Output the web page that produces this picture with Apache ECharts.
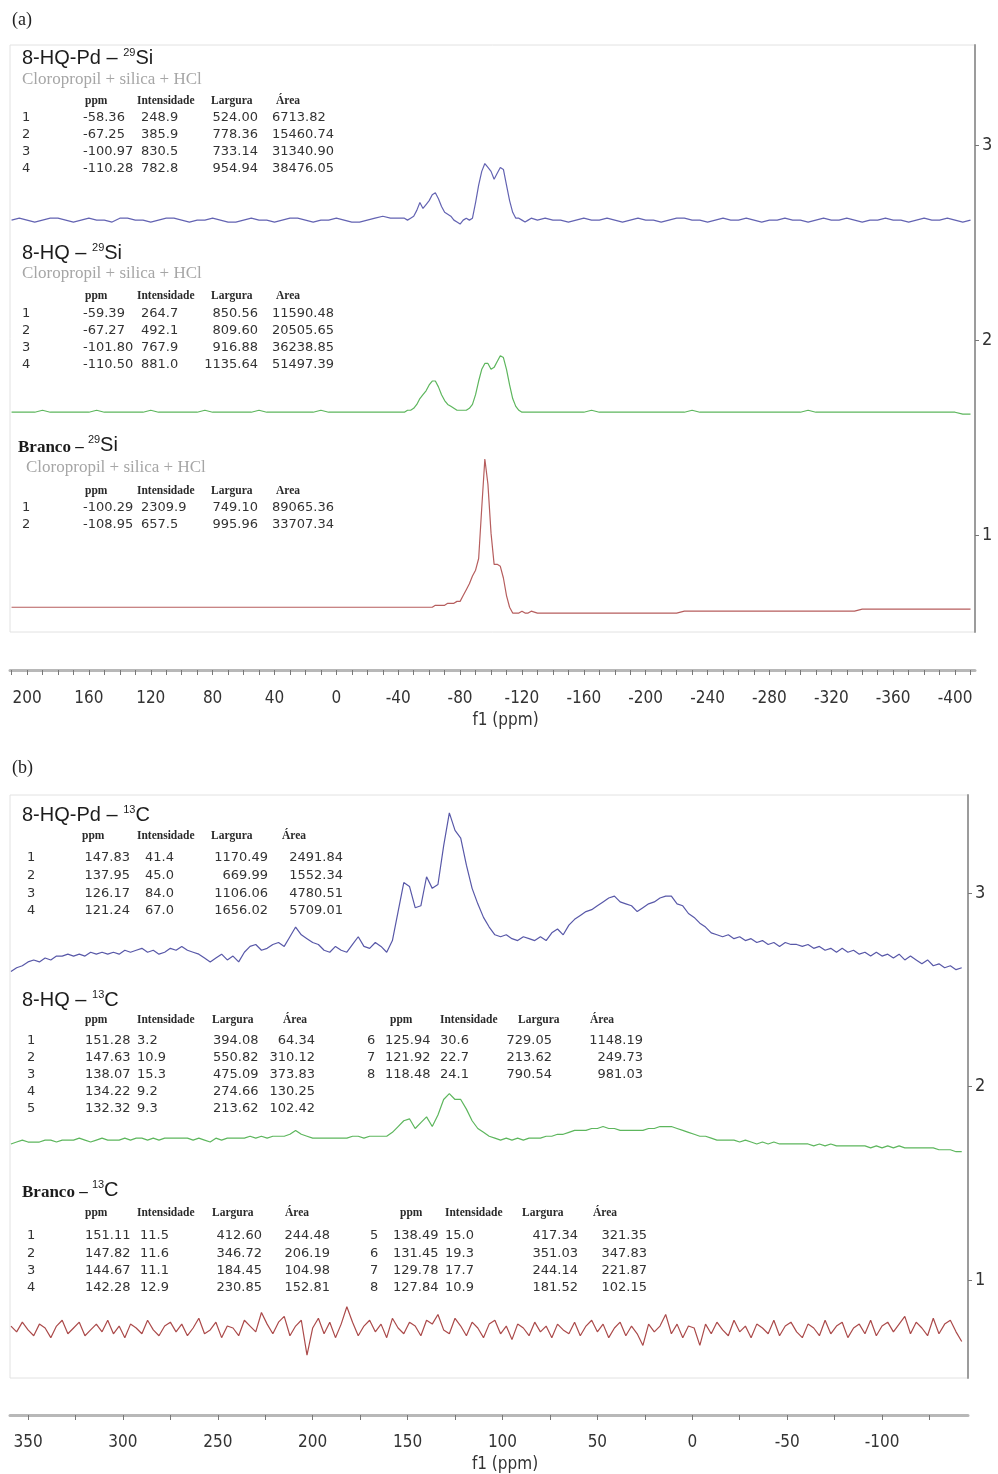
<!DOCTYPE html>
<html>
<head>
<meta charset="utf-8">
<title>RMN 29Si / 13C</title>
<style>
  html, body { margin: 0; padding: 0; background: #fff; }
  #chart { width: 998px; height: 1474px; }
</style>
</head>
<body>
<div id="chart"></div>
<script src="https://cdn.jsdelivr.net/npm/echarts@6/dist/echarts.min.js"></script>
<script>
// ---------- (a) 29Si : ppm grid and spectra (intensity in 1/100 of a y-unit above baseline) ----------
var siPpm = [
  210,205,200,195,190,185,180,175,170,165,
  160,155,150,145,140,135,130,125,120,115,
  110,105,100,95,90,85,80,75,70,65,
  60,55,50,45,40,35,30,25,20,15,
  10,5,0,-5,-10,-15,-20,-25,-30,-35,
  -40,
  -42,-44,-46,-48,-50,-52,-54,-56,-58,-60,
  -62,-64,-66,-68,-70,-72,-74,-76,-78,-80,
  -82,-84,-86,-88,-90,-92,-94,-96,-98,-100,
  -102,-104,-106,-108,-110,-112,-114,-116,-118,-120,
  -122,-124,-126,
  -130,-135,-140,-145,-150,-155,-160,-165,-170,-175,
  -180,-185,-190,-195,-200,-205,-210,-215,-220,-225,
  -230,-235,-240,-245,-250,-255,-260,-265,-270,-275,
  -280,-285,-290,-295,-300,-305,-310,-315,-320,-325,
  -330,-335,-340,-345,-350,-355,-360,-365,-370,-375,
  -380,-385,-390,-395,-400,-405,-410
];
var siPd = [
  0,1,0,-1,0,1,1,0,-1,0,
  1,0,0,-1,1,1,0,0,-1,0,
  1,1,0,-1,0,0,1,0,-1,-1,
  0,1,0,0,-1,0,1,1,0,-1,
  0,0,1,0,-1,-1,0,1,2,1,
  1,
  1,1,0,1,2,5,9,6,8,10,
  13,14,11,7,4,3,2,0,-1,-2,
  0,1,0,1,9,18,25,29,27,25,
  21,24,27,26,18,10,4,1,1,0,
  -1,0,1,
  0,1,0,0,-1,0,1,0,0,1,
  0,-1,0,1,0,0,-1,0,1,1,
  0,0,-1,0,1,0,0,1,0,-1,
  0,0,1,0,0,-1,0,1,0,0,
  1,0,-1,0,0,1,0,0,-1,0,
  1,0,0,1,0,-1,0
];
var siHq = [
  0,0,0,0,1,0,0,0,0,0,
  0,1,0,0,0,0,0,0,1,0,
  0,0,0,0,0,1,0,0,0,0,
  0,0,1,0,0,0,0,0,0,0,
  1,0,0,0,0,0,0,0,0,0,
  0,
  0,0,1,1,2,4,7,9,11,14,
  16,16,13,9,6,4,3,2,1,1,
  1,1,2,4,9,16,22,25,25,22,
  23,26,29,28,22,14,7,3,1,0,
  0,0,0,
  0,0,0,0,0,0,0,1,0,0,
  0,0,0,0,0,0,0,0,0,0,
  1,0,0,0,0,0,0,0,0,0,
  0,0,0,0,0,1,0,0,0,0,
  0,0,0,0,0,0,0,0,0,0,
  0,0,0,0,0,-1,-1
];
var siBranco = [
  0,0,0,0,0,0,0,0,0,0,
  0,0,0,0,0,0,0,0,0,0,
  0,0,0,0,0,0,0,0,0,0,
  0,0,0,0,0,0,0,0,0,0,
  0,0,0,0,0,0,0,0,0,0,
  0,
  0,0,0,0,0,0,0,0,0,0,
  0,1,1,1,1,2,2,2,3,3,
  6,9,12,16,19,25,51,76,63,38,
  22,22,21,15,6,0,-3,-3,-3,-2,
  -3,-3,-2,
  -3,-3,-3,-3,-3,-3,-3,-3,-3,-3,
  -3,-3,-3,-3,-3,-3,-3,-3,-3,-2,
  -2,-2,-2,-2,-2,-2,-2,-2,-2,-2,
  -2,-2,-2,-2,-2,-2,-2,-2,-2,-2,
  -2,-2,-1,-1,-1,-1,-1,-1,-1,-1,
  -1,-1,-1,-1,-1,-1,-1
];
var siLabels = [200,160,120,80,40,0,-40,-80,-120,-160,-200,-240,-280,-320,-360,-400];

// ---------- (b) 13C ----------
var cPpm = [
  359,356,353,350,347,344,341,338,335,332,
  329,326,323,320,317,314,311,308,305,302,
  299,296,293,290,287,284,281,278,275,272,
  269,266,263,260,257,254,251,248,245,242,
  239,236,233,230,227,224,221,218,215,212,
  209,206,203,200,197,194,191,188,185,182,
  179,176,173,170,167,164,161,158,155,152,
  149,146,143,140,137,134,131,128,125,122,
  119,116,113,110,107,104,101,98,95,92,
  89,86,83,80,77,74,71,68,65,62,
  59,56,53,50,47,44,41,38,35,32,
  29,26,23,20,17,14,11,8,5,2,
  -1,-4,-7,-10,-13,-16,-19,-22,-25,-28,
  -31,-34,-37,-40,-43,-46,-49,-52,-55,-58,
  -61,-64,-67,-70,-73,-76,-79,-82,-85,-88,
  -91,-94,-97,-100,-103,-106,-109,-112,-115,-118,
  -121,-124,-127,-130,-133,-136,-139,-142
];
var cPd = [
  -6,-4,-3,-1,0,-1,1,0,2,2,
  3,2,3,2,4,3,4,3,4,3,
  5,4,5,6,4,5,3,4,6,5,
  7,5,4,3,1,-1,1,3,0,2,
  -1,4,7,8,5,6,8,9,7,12,
  17,13,11,9,8,5,4,7,5,4,
  8,12,7,6,9,7,4,10,25,40,
  38,27,28,43,37,39,59,76,67,63,
  49,37,29,22,17,13,12,13,11,10,
  12,11,10,12,10,14,16,13,18,21,
  23,25,26,28,30,32,33,30,29,28,
  25,27,29,30,32,33,33,29,28,24,
  22,19,17,14,13,12,13,11,12,10,
  11,9,10,8,9,7,9,8,8,7,
  8,6,7,5,6,4,6,4,5,3,
  4,2,4,2,3,1,3,0,2,0,
  -2,0,-3,-2,-4,-3,-5,-4
];
var cHq = [
  -1,0,1,0,0,0,1,1,0,1,
  1,1,2,1,0,1,2,1,1,1,
  2,1,2,2,1,2,1,2,2,2,
  2,2,1,2,1,0,2,1,2,2,
  2,2,3,2,3,2,3,3,3,4,
  6,4,3,2,2,2,2,2,2,2,
  3,3,2,3,3,3,3,5,8,11,
  12,7,10,13,8,14,22,25,22,22,
  17,11,7,5,3,2,1,2,1,2,
  1,2,2,2,3,3,4,4,5,6,
  6,6,7,7,8,7,7,6,6,6,
  6,6,7,7,8,8,8,7,6,5,
  4,3,3,2,1,1,1,1,0,1,
  0,-1,0,-1,0,-1,-1,-1,-1,-1,
  -1,-2,-1,-2,-1,-2,-2,-2,-2,-2,
  -2,-3,-2,-3,-2,-3,-2,-3,-3,-3,
  -3,-3,-3,-4,-4,-4,-5,-5
];
var cBranco = [
  2,-1,4,0,-3,3,1,-4,2,5,
  -2,1,4,-3,0,3,-1,5,-2,2,
  -4,3,1,-2,5,0,-3,2,4,-1,
  3,-3,1,6,-2,0,4,-4,2,1,
  -3,5,2,-1,9,3,-2,4,7,-3,
  2,5,-13,1,6,-2,4,-4,3,12,
  4,-3,2,5,-1,3,-4,6,1,-2,
  4,2,-3,5,3,8,0,-2,6,2,
  -3,4,1,-4,3,5,-2,2,-5,3,
  1,-3,4,-1,2,-4,3,0,-2,4,
  -3,2,5,-1,3,-4,1,4,-3,2,
  -2,-8,3,-1,2,8,-2,3,-4,2,
  1,-8,3,-2,4,0,-3,5,-1,2,
  -4,3,1,-2,5,-3,2,4,-1,-4,
  3,1,-3,5,-2,2,4,-4,1,3,
  -2,5,-3,2,4,-1,3,7,-2,4,
  1,-3,6,-2,3,5,-1,-6
];
var cLabels = [350,300,250,200,150,100,50,0,-50,-100];
var yLabels = [1, 2, 3];

// baselines of the stacked traces, in y-axis units
var siBase = [2.615, 1.63, 0.63];
var cBase = [2.654, 1.713, 0.742];

// peak tables
var headSiA = ['ppm', 'Intensidade', 'Largura', 'Área'];
var headSiB = ['ppm', 'Intensidade', 'Largura', 'Area'];
var siPdRows = [
  ['1','-58.36','248.9','524.00','6713.82'],
  ['2','-67.25','385.9','778.36','15460.74'],
  ['3','-100.97','830.5','733.14','31340.90'],
  ['4','-110.28','782.8','954.94','38476.05']
];
var siHqRows = [
  ['1','-59.39','264.7','850.56','11590.48'],
  ['2','-67.27','492.1','809.60','20505.65'],
  ['3','-101.80','767.9','916.88','36238.85'],
  ['4','-110.50','881.0','1135.64','51497.39']
];
var siBrRows = [
  ['1','-100.29','2309.9','749.10','89065.36'],
  ['2','-108.95','657.5','995.96','33707.34']
];
var cPdRows = [
  ['1','147.83','41.4','1170.49','2491.84'],
  ['2','137.95','45.0','669.99','1552.34'],
  ['3','126.17','84.0','1106.06','4780.51'],
  ['4','121.24','67.0','1656.02','5709.01']
];
var cHqRows = [
  ['1','151.28','3.2','394.08','64.34'],
  ['2','147.63','10.9','550.82','310.12'],
  ['3','138.07','15.3','475.09','373.83'],
  ['4','134.22','9.2','274.66','130.25'],
  ['5','132.32','9.3','213.62','102.42'],
  ['6','125.94','30.6','729.05','1148.19'],
  ['7','121.92','22.7','213.62','249.73'],
  ['8','118.48','24.1','790.54','981.03']
];
var cBrRows = [
  ['1','151.11','11.5','412.60','244.48'],
  ['2','147.82','11.6','346.72','206.19'],
  ['3','144.67','11.1','184.45','104.98'],
  ['4','142.28','12.9','230.85','152.81'],
  ['5','138.49','15.0','417.34','321.35'],
  ['6','131.45','19.3','351.03','347.83'],
  ['7','129.78','17.7','244.14','221.87'],
  ['8','127.84','10.9','181.52','102.15']
];
</script>
<script>
var SANS = 'Liberation Sans, Arial, sans-serif';
var SERIF = 'Liberation Serif, Times New Roman, serif';
var VAL = 'DejaVu Sans, Verdana, sans-serif';
var AXIS = 'DejaVu Sans Condensed, DejaVu Sans, sans-serif';

function pairs(ppm, vals, base) {
  return ppm.map(function (p, i) { return [p, base + vals[i] / 100]; });
}
function minorTicks(from, to, step) {
  var t = [];
  for (var v = from; v >= to; v -= step) t.push(v);
  return t;
}

// ---- text overlay ----
var G = [];
function T(x, y, s, o) {
  o = o || {};
  var st = {
    text: s,
    fontFamily: o.ff || VAL, fontSize: o.fs || 13, fontWeight: o.fw || 'normal',
    fill: o.c || '#333',
    textAlign: o.a || 'left', align: o.a || 'left',
    textVerticalAlign: 'middle', verticalAlign: 'middle'
  };
  if (o.rich) st.rich = o.rich;
  G.push({ type: 'text', x: x, y: y, silent: true, style: st });
}
var richTitle = {
  n: { fontFamily: SANS, fontSize: 20, fill: '#1c1c1c', lineHeight: 22 },
  s: { fontFamily: SANS, fontSize: 11, fill: '#1c1c1c', verticalAlign: 'top' },
  w: { fontFamily: SERIF, fontSize: 17, fontWeight: 'bold', fill: '#1c1c1c', verticalAlign: 'bottom' }
};
function title(x, y, s) { T(x, y, s, { rich: richTitle, fs: 20, ff: SANS, c: '#1c1c1c' }); }
function sub(x, y) { T(x, y, 'Cloropropil + silica + HCl', { ff: SERIF, fs: 17, c: '#a6a6a6' }); }
function header(names, xs, y) {
  names.forEach(function (h, i) { T(xs[i], y, h, { ff: SERIF, fs: 11.5, fw: 'bold', c: '#2a2a2a' }); });
}
function table(rows, cols, y0, dy) {
  rows.forEach(function (r, k) {
    r.forEach(function (cell, j) { T(cols[j][0], y0 + k * dy, cell, { a: cols[j][1] }); });
  });
}

// (a)
T(12, 20, '(a)', { ff: SERIF, fs: 18, c: '#222' });
var colsSi = [[22,'left'],[83,'left'],[141,'left'],[258,'right'],[272,'left']];
var hxSi = [85, 137, 211, 276];
title(22, 58, '{n|8-HQ-Pd – }{s|29}{n|Si}');
sub(22, 80);
header(headSiA, hxSi, 101);
table(siPdRows, colsSi, 118, 17);
title(22, 253, '{n|8-HQ – }{s|29}{n|Si}');
sub(22, 274);
header(headSiB, hxSi, 296);
table(siHqRows, colsSi, 314, 17);
title(18, 445, '{w|Branco – }{s|29}{n|Si}');
sub(26, 468);
header(headSiB, hxSi, 491);
table(siBrRows, colsSi, 508, 17);

// (b)
T(12, 768, '(b)', { ff: SERIF, fs: 18, c: '#222' });
var headC = ['ppm', 'Intensidade', 'Largura', 'Área'];
title(22, 815, '{n|8-HQ-Pd – }{s|13}{n|C}');
header(headC, [82, 137, 211, 282], 836);
table(cPdRows, [[27,'left'],[130,'right'],[145,'left'],[268,'right'],[343,'right']], 858, 17.7);
title(22, 1000, '{n|8-HQ – }{s|13}{n|C}');
header(headC, [85, 137, 212, 283], 1020);
header(headC, [390, 440, 518, 590], 1020);
table(cHqRows.slice(0, 5), [[27,'left'],[85,'left'],[137,'left'],[213,'left'],[315,'right']], 1041, 17);
table(cHqRows.slice(5), [[367,'left'],[385,'left'],[440,'left'],[552,'right'],[643,'right']], 1041, 17);
title(22, 1190, '{w|Branco – }{s|13}{n|C}');
header(headC, [85, 137, 212, 285], 1213);
header(headC, [400, 445, 522, 593], 1213);
table(cBrRows.slice(0, 4), [[27,'left'],[85,'left'],[140,'left'],[262,'right'],[330,'right']], 1236, 17.3);
table(cBrRows.slice(4), [[370,'left'],[393,'left'],[445,'left'],[578,'right'],[647,'right']], 1236, 17.3);

// ---- axes ----
function xAxisCfg(grid, min, max, labels, ticks, offset, margin, gap, pad) {
  return {
    gridIndex: grid, type: 'value', inverse: true, min: min, max: max, offset: offset,
    axisLine: { show: true, onZero: false, lineStyle: { color: '#b8b8b8', width: 3 } },
    axisTick: { show: true, customValues: ticks, length: 5, lineStyle: { color: '#777', width: 1 } },
    axisLabel: { customValues: labels, margin: margin, fontSize: 17, color: '#333', fontFamily: AXIS },
    splitLine: { show: false },
    name: 'f1 (ppm)', nameLocation: 'middle', nameGap: gap,
    nameTextStyle: { fontSize: 17, color: '#333', fontFamily: AXIS, padding: [0, 0, 0, pad] }
  };
}
function yAxisCfg(grid, min, max) {
  return {
    gridIndex: grid, type: 'value', position: 'right', min: min, max: max,
    axisLine: { show: true, onZero: false, lineStyle: { color: '#9c9c9c', width: 2 } },
    axisTick: { show: true, customValues: yLabels, length: 4, lineStyle: { color: '#777' } },
    axisLabel: { customValues: yLabels, margin: 7, fontSize: 18, color: '#333', fontFamily: AXIS },
    splitLine: { show: false }
  };
}
function trace(xi, data, color) {
  return {
    type: 'line', xAxisIndex: xi, yAxisIndex: xi, data: data,
    showSymbol: false, symbol: 'none', silent: true, animation: false,
    lineStyle: { color: color, width: 1.2 }
  };
}

var chart = echarts.init(document.getElementById('chart'));
chart.setOption({
  backgroundColor: '#fff',
  animation: false,
  grid: [
    { left: 10, right: 23, top: 45, height: 587, show: true, borderColor: '#e2e2e2', borderWidth: 1 },
    { left: 10, right: 30, top: 795, height: 583, show: true, borderColor: '#e2e2e2', borderWidth: 1 }
  ],
  xAxis: [
    xAxisCfg(0, -412.9, 211, siLabels, minorTicks(210, -410, 10), 38, 20, 42, 26),
    xAxisCfg(1, -145.3, 359.5, cLabels, minorTicks(350, -125, 25), 37, 19, 41, 32)
  ],
  yAxis: [
    yAxisCfg(0, 0.503, 3.513),
    yAxisCfg(1, 0.4935, 3.5065)
  ],
  series: [
    trace(0, pairs(siPpm, siPd, siBase[0]), '#6363b2'),
    trace(0, pairs(siPpm, siHq, siBase[1]), '#5db65d'),
    trace(0, pairs(siPpm, siBranco, siBase[2]), '#b65e5e'),
    trace(1, pairs(cPpm, cPd, cBase[0]), '#5858a8'),
    trace(1, pairs(cPpm, cHq, cBase[1]), '#5db65d'),
    trace(1, pairs(cPpm, cBranco, cBase[2]), '#ab4a4a')
  ],
  graphic: G
});
</script>
</body>
</html>
